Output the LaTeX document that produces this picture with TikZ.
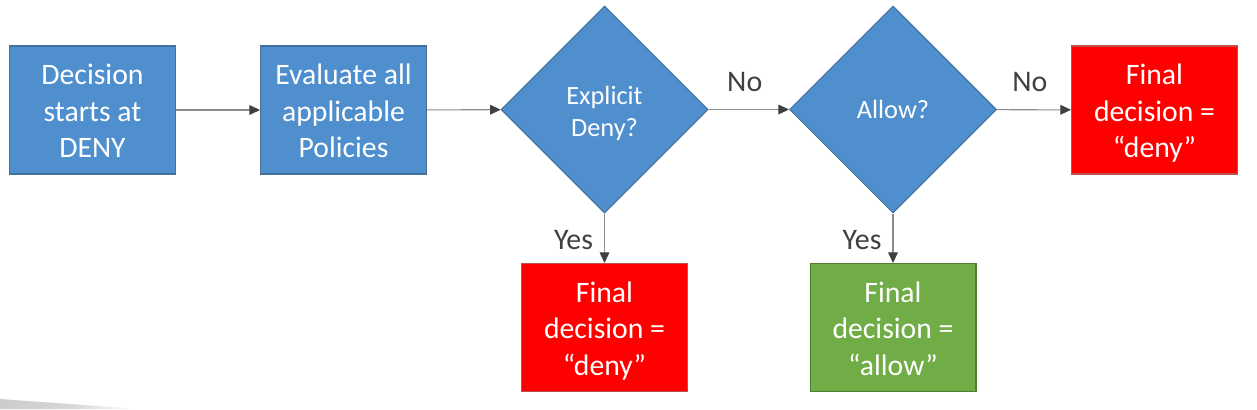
\documentclass[tikz,border=0pt]{standalone}
\usepackage{fontspec}
\setmainfont{Carlito}
\usepackage{tikz}
\usetikzlibrary{shapes.geometric,arrows.meta}

\definecolor{boxblue}{HTML}{4F8FCD}
\definecolor{edgeblue}{HTML}{41719C}
\definecolor{denyred}{HTML}{FF0000}
\definecolor{edgered}{HTML}{C0504D}
\definecolor{allowgreen}{HTML}{70AD47}
\definecolor{edgegreen}{HTML}{507E32}
\definecolor{labelgray}{HTML}{404040}

\newcommand{\headroom}{\rule{0pt}{19pt}}

\tikzset{
    stepbox/.style={rectangle, draw=edgeblue, fill=boxblue, text=white, line width=0.6pt,
        minimum width=3.32cm, minimum height=2.56cm, align=center, inner sep=0pt,
        font=\fontsize{16.9}{20.8}\selectfont, execute at end node=\strut},
    choice/.style={diamond, draw=edgeblue, fill=boxblue, text=white, line width=0.6pt,
        minimum width=4.14cm, minimum height=4.14cm, align=center, inner sep=0pt,
        font=\fontsize{15}{18}\selectfont},
    denybox/.style={stepbox, draw=edgered, fill=denyred},
    allowbox/.style={stepbox, draw=edgegreen, fill=allowgreen},
    flow/.style={draw=gray!90, line width=0.6pt, -{Triangle[length=6pt,width=5.5pt,color=labelgray]}},
    answer/.style={text=labelgray, font=\fontsize{17}{20}\selectfont}
}

\begin{document}
\begin{tikzpicture}[x=0.02cm, y=-0.02cm]
    \useasboundingbox (0,0) rectangle (1257,409);

    % slide corner
    \shade[left color=gray!40, right color=white, middle color=gray!32] (0,399) -- (140,409) -- (0,409) -- cycle;

    % Draw the boxes and the two questions
    \node[stepbox] (start) at (92.5,110) {\headroom Decision\\starts at\\DENY};
    \node[stepbox] (evaluate) at (343.5,110) {\headroom Evaluate all\\applicable\\Policies};
    \node[choice] (explicit) at (604.5,109.5) {\rule{0pt}{15pt}Explicit\\Deny?};
    \node[choice] (allow) at (893,109.5) {Allow?};
    \node[denybox] (denyright) at (1154.5,110) {\headroom Final\\decision =\\“deny”};
    \node[denybox] (denybottom) at (604.5,327.5) {\headroom Final\\decision =\\“deny”};
    \node[allowbox] (allowbottom) at (893,327.5) {\headroom Final\\decision =\\“allow”};

    % Draw the arrows and their labels
    \draw[flow] (start) -- (evaluate);
    \draw[flow] (evaluate) -- (explicit);
    \draw[flow] (explicit) -- node[answer, midway, xshift=-0.08cm, yshift=0.55cm] {No} (allow);
    \draw[flow] (allow) -- node[answer, midway, xshift=-0.08cm, yshift=0.55cm] {No} (denyright);
    \draw[flow] (explicit) -- node[answer, midway, xshift=-0.62cm, yshift=-0.03cm] {Yes} (denybottom);
    \draw[flow] (allow) -- node[answer, midway, xshift=-0.62cm, yshift=-0.03cm] {Yes} (allowbottom);
\end{tikzpicture}
\end{document}
